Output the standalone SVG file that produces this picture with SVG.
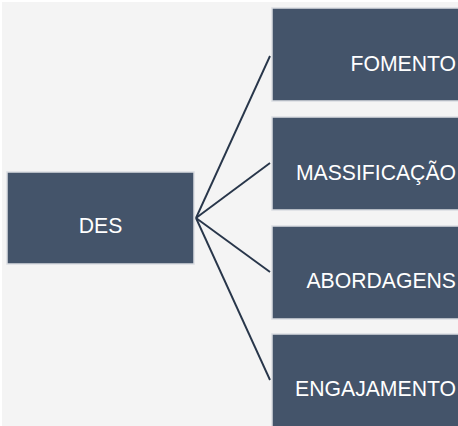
<svg xmlns="http://www.w3.org/2000/svg" width="458" height="426" viewBox="0 0 458 426">
<style>
.box{fill:#44546a;stroke:#dadde2;stroke-width:1.5}
.lbl{font-family:"Liberation Sans",Arial,sans-serif;font-size:21.2px;fill:#ffffff}
.con{stroke:#28364a;stroke-width:1.9;fill:none}
</style>
<rect x="0" y="0" width="458" height="426" fill="#ffffff"/>
<rect x="2" y="2" width="456" height="424" fill="#f4f4f4"/>
<g id="connectors">
<line class="con" x1="196" y1="218" x2="270" y2="56"/>
<line class="con" x1="196" y1="218" x2="270" y2="163"/>
<line class="con" x1="196" y1="218" x2="270" y2="272"/>
<line class="con" x1="196" y1="218" x2="270" y2="380"/>
</g>
<g id="des">
<rect class="box" x="7" y="172" width="187" height="92"/>
<text class="lbl" x="100.5" y="232.5" text-anchor="middle">DES</text>
</g>
<g id="fomento">
<rect class="box" x="272" y="8" width="200" height="93"/>
<text class="lbl" x="456" y="70.5" text-anchor="end">FOMENTO</text>
</g>
<g id="massificacao">
<rect class="box" x="272" y="117" width="200" height="93"/>
<text class="lbl" x="456" y="179.5" text-anchor="end">MASSIFICAÇÃO</text>
</g>
<g id="abordagens">
<rect class="box" x="272" y="226" width="200" height="93"/>
<text class="lbl" x="456" y="288" text-anchor="end">ABORDAGENS</text>
</g>
<g id="engajamento">
<rect class="box" x="272" y="334" width="200" height="100"/>
<text class="lbl" x="456" y="396" text-anchor="end">ENGAJAMENTO</text>
</g>
</svg>
